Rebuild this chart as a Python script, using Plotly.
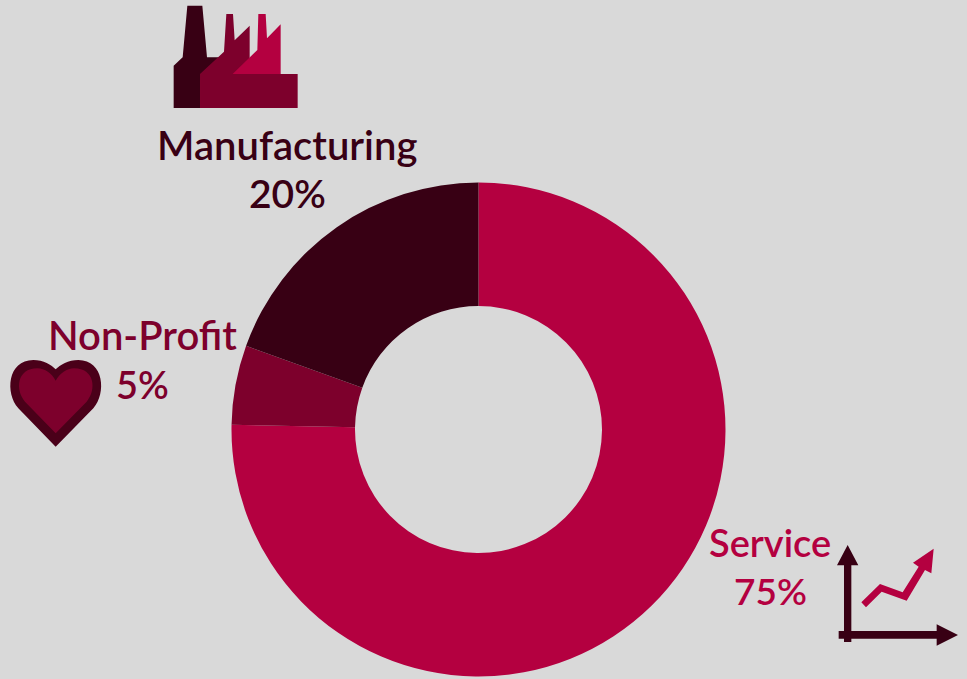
import plotly.graph_objects as go

W, H = 967, 679
BG = "#D9D9D9"
categories = ["Service", "Non-Profit", "Manufacturing"]
values = [75.3, 5.2, 19.5]
shown_pct = ["75%", "5%", "20%"]
colors = ["#B40040", "#7D002C", "#380014"]


def px(x, y):
    return f"{x / W:.5f},{1 - y / H:.5f}"


def z(x0, y0, x, y):
    return x0 + x / 3, y0 + y / 3


def poly(x0, y0, pts, color):
    d = "M " + " L ".join(px(*z(x0, y0, *p)).replace(",", " ") for p in pts) + " Z"
    return dict(type="path", xref="paper", yref="paper", path=d, fillcolor=color, line_width=0, layer="above")


def heart(x0, y0, s, color):
    segs = s
    d = ""
    for cmd, pts in segs:
        d += cmd + " " + " ".join(px(*z(x0, y0, *p)).replace(",", " ") for p in pts) + " "
    return dict(type="path", xref="paper", yref="paper", path=d + "Z", fillcolor=color, line_width=0, layer="above")


shapes = []
# factory
f = (160, 0)
shapes.append(poly(*f, [(41, 197), (68, 172), (82, 17), (127, 17), (141, 172), (178, 172), (120, 226), (120, 324), (41, 324)], "#380014"))
shapes.append(poly(*f, [(120, 222), (192, 155), (199, 42), (219, 42), (224, 121), (269, 77), (269, 240), (120, 240)], "#7D002C"))
shapes.append(poly(*f, [(218, 222), (292, 150), (295, 42), (317, 42), (321, 115), (362, 73), (362, 222)], "#B40040"))
shapes.append(poly(*f, [(120, 222), (413, 222), (413, 324), (120, 324)], "#7D002C"))
# heart
h = (0, 350)
shapes.append(heart(*h, [
    ("M", [(167, 290)]), ("L", [(55, 175)]),
    ("C", [(15, 130), (22, 30), (100, 30)]),
    ("C", [(130, 30), (155, 45), (167, 58)]),
    ("C", [(180, 45), (205, 30), (235, 30)]),
    ("C", [(312, 30), (320, 130), (280, 175)]),
], "#4A0019"))
shapes.append(heart(*h, [
    ("M", [(167, 250)]), ("L", [(75, 155)]),
    ("C", [(45, 120), (50, 55), (112, 55)]),
    ("C", [(135, 55), (155, 70), (167, 92)]),
    ("C", [(180, 70), (200, 55), (222, 55)]),
    ("C", [(285, 55), (290, 120), (260, 155)]),
], "#7D002C"))
# growth chart icon
g = (830, 540)
shapes.append(poly(*g, [(42, 76), (21, 76), (53, 15), (85, 76), (64, 76), (64, 273), (320, 273), (320, 253), (384, 285), (320, 317), (320, 296), (64, 296), (64, 306), (42, 306), (42, 296), (26, 296), (26, 273), (42, 273)], "#380014"))
shapes.append(poly(*g, [(94, 187), (150, 132), (218, 157), (266, 80), (249, 68), (311, 26), (304, 100), (285, 90), (230, 182), (155, 155), (108, 202)], "#B40040"))


def label(text, x, y, size, color):
    return dict(
        x=x / W, y=1 - y / H, text=text, xref="paper", yref="paper", showarrow=False,
        xanchor="center", yanchor="middle", align="center",
        font=dict(family="Lato", size=size, weight=600, color=color),
    )


annotations = [
    label(categories[2], 287, 145, 40, colors[2]),
    label(shown_pct[2], 287, 193, 39, colors[2]),
    label(categories[1], 142, 335, 40, colors[1]),
    label(shown_pct[1], 142, 384, 38, colors[1]),
    label(categories[0], 770, 542, 38, colors[0]),
    label(shown_pct[0], 770, 590, 37, colors[0]),
]

fig = go.Figure(go.Pie(
    labels=categories,
    values=values,
    sort=False,
    direction="clockwise",
    rotation=0,
    hole=0.5,
    marker=dict(colors=colors, line_width=0),
    textinfo="none",
    showlegend=False,
    domain=dict(x=[231.5 / W, 725.5 / W], y=[1 - 676.5 / H, 1 - 182.5 / H]),
))
fig.update_layout(
    width=W, height=H, autosize=False,
    margin=dict(l=0, r=0, t=0, b=0),
    paper_bgcolor=BG, plot_bgcolor=BG,
    shapes=shapes, annotations=annotations,
)
fig.write_html(
    "out.html",
    config=dict(displayModeBar=False),
    post_script="document.documentElement.style.background='#D9D9D9';document.body.style.margin='0';document.body.style.overflow='hidden';",
)
